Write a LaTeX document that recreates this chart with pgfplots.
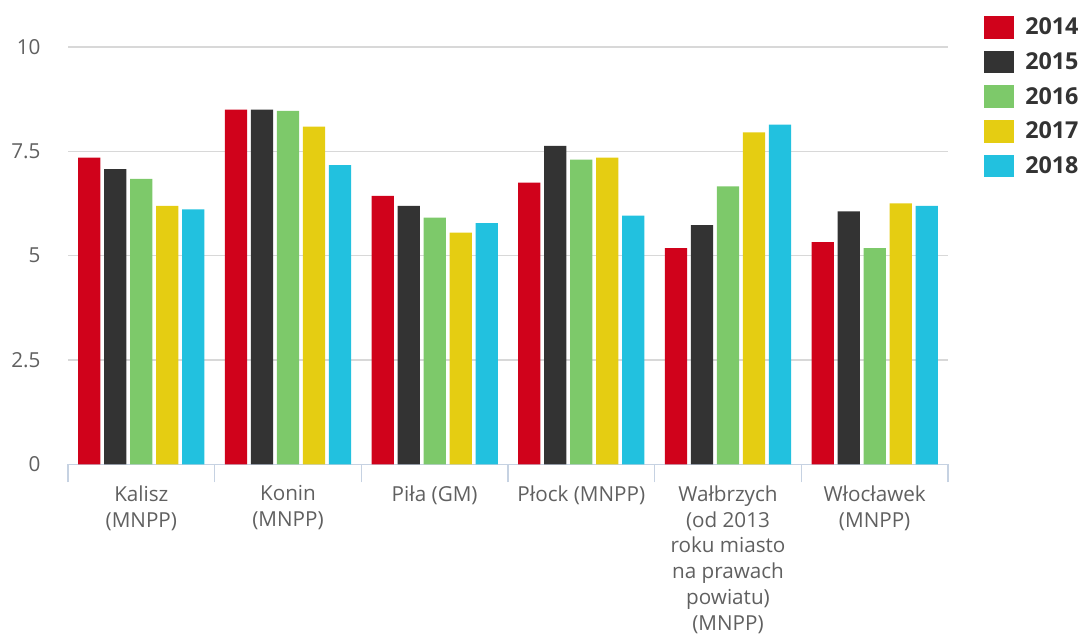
\documentclass[border=0pt]{standalone}
\usepackage{pgfplots}
\pgfplotsset{compat=1.18}
\usepackage{fontspec}
\setmainfont{Open Sans}

\definecolor{c14}{HTML}{D0021B}
\definecolor{c15}{HTML}{333333}
\definecolor{c16}{HTML}{7DC96A}
\definecolor{c17}{HTML}{E5CD12}
\definecolor{c18}{HTML}{22C1DF}
\definecolor{gridgray}{HTML}{D8D8D8}
\definecolor{axisblue}{HTML}{C6D2E2}
\definecolor{labelgray}{HTML}{606060}
\definecolor{legendtext}{HTML}{333333}

\begin{document}
\begin{tikzpicture}
\path[use as bounding box] (0,0) rectangle (814.5pt,477pt);
\begin{axis}[
  at={(51pt,128.8pt)}, anchor=south west,
  scale only axis, width=660pt, height=313pt,
  xmin=-0.5, xmax=5.5, ymin=0, ymax=10,
  axis x line*=bottom, axis y line*=left,
  x axis line style={draw=axisblue, line width=1pt, -},
  y axis line style={draw=none},
  ytick={0,2.5,5,7.5,10},
  yticklabels={0,2.5,5,7.5,10},
  ytick style={draw=none},
  ymajorgrids, xmajorgrids=false,
  grid style={draw=gridgray, line width=1pt},
  yticklabel style={font=\fontsize{15.5}{18}\selectfont, text=labelgray,
    inner sep=0pt, anchor=east, xshift=-20.5pt},
  xtick={0,1,2,3,4,5},
  xticklabels={
    {Kalisz\\(MNPP)},
    {Konin\\(MNPP)},
    {Piła (GM)},
    {Płock (MNPP)},
    {Wałbrzych\\(od 2013\\roku miasto\\na prawach\\powiatu)\\(MNPP)},
    {Włocławek\\(MNPP)}},
  xtick style={draw=none},
  xticklabel style={font=\fontsize{15.5}{19.4}\selectfont, text=labelgray,
    align=center, inner sep=0pt, anchor=north, yshift=-11.5pt},
  extra x ticks={-0.5,0.5,1.5,2.5,3.5,4.5,5.5},
  extra x tick labels={},
  extra x tick style={xtick style={draw=axisblue, line width=1pt},
    major tick length=13.5pt, tick align=outside, xmajorgrids=false},
  ybar, bar width=16.7pt,
  every axis plot post/.append style={
    legend image code/.code={\fill[##1] (0pt,-8.5pt) rectangle (22.5pt,8.5pt);}},
  legend style={at={(axis description cs:1.0409,1.075)}, anchor=north west,
    draw=none, fill=none, inner sep=0pt, row sep=9pt, column sep=8.25pt,
    font=\fontsize{17.5}{17.5}\selectfont\bfseries, text=legendtext,
    nodes={inner sep=0pt, anchor=west}},
  legend cell align=left,
]
\addplot[fill=c14, draw=none, bar shift=-39pt] coordinates
  {(0,7.35) (1,8.50) (2,6.43) (3,6.75) (4,5.18) (5,5.32)};
\addplot[fill=c15, draw=none, bar shift=-19.5pt] coordinates
  {(0,7.07) (1,8.50) (2,6.19) (3,7.63) (4,5.73) (5,6.06)};
\addplot[fill=c16, draw=none, bar shift=0pt] coordinates
  {(0,6.84) (1,8.47) (2,5.91) (3,7.30) (4,6.66) (5,5.18)};
\addplot[fill=c17, draw=none, bar shift=19.5pt] coordinates
  {(0,6.19) (1,8.09) (2,5.55) (3,7.35) (4,7.95) (5,6.25)};
\addplot[fill=c18, draw=none, bar shift=39pt] coordinates
  {(0,6.11) (1,7.17) (2,5.78) (3,5.96) (4,8.14) (5,6.19)};
\legend{2014,2015,2016,2017,2018}
\end{axis}
\end{tikzpicture}
\end{document}
